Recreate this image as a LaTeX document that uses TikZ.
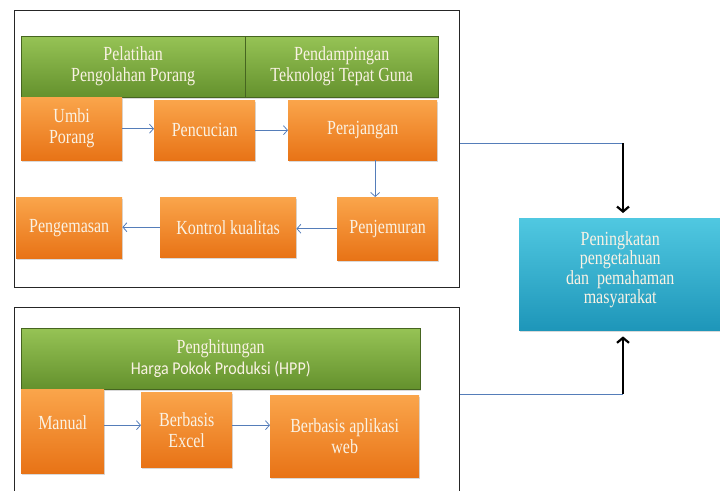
\documentclass[tikz,border=0pt]{standalone}
\usepackage{fontspec}
\setmainfont[FakeStretch=0.8]{Liberation Serif}
\newfontfamily\calibrifont[FakeStretch=0.89]{Carlito}
\usetikzlibrary{arrows.meta,shadows}

\definecolor{leaftop}{RGB}{150,195,85}
\definecolor{leafdark}{RGB}{100,145,45}
\definecolor{carrottop}{RGB}{250,165,75}
\definecolor{carrot}{RGB}{232,115,22}
\definecolor{skytop}{RGB}{80,200,225}
\definecolor{sky}{RGB}{30,150,185}
\definecolor{steel}{RGB}{85,125,185}
\definecolor{cream}{RGB}{250,242,228}

\tikzset{
  box/.style={anchor=north west, align=center, text=cream, inner sep=2pt,
    font=\fontsize{20}{21}\selectfont,
    drop shadow={shadow xshift=1pt,shadow yshift=-1.5pt,opacity=.3}},
  greenbox/.style={box, top color=leaftop, bottom color=leafdark, draw=leafdark!70!black, line width=.4pt},
  orangebox/.style={box, top color=carrottop, bottom color=carrot},
  cyanbox/.style={box, top color=skytop, bottom color=sky, font=\fontsize{20}{19.5}\selectfont},
  frame/.style={anchor=north west, draw=black!85, line width=1.3pt},
  flow/.style={draw=steel, line width=.8pt, -{Straight Barb[length=4pt,width=9pt]}},
  link/.style={draw=steel, line width=.7pt},
  push/.style={line width=2.2pt, -{Straight Barb[length=5pt,width=12pt]}}
}

\begin{document}
\begin{tikzpicture}[x=1pt, y=-1pt]

\useasboundingbox (0,0) rectangle (720,490);

\node[frame, minimum width=445pt, minimum height=277pt] (topframe) at (14,10) {};
\node[frame, minimum width=445pt, minimum height=200pt] (botframe) at (14,307) {};

\node[greenbox, minimum width=224pt, minimum height=61pt] (training) at (21,36) {Pelatihan\\Pengolahan Porang};
\node[greenbox, minimum width=193pt, minimum height=61pt] (assist) at (245,36) {Pendampingan\\Teknologi Tepat Guna};

\node[orangebox, minimum width=101pt, minimum height=63pt] (tuber) at (21,97) {Umbi\\Porang};
\node[orangebox, minimum width=101pt, minimum height=60pt] (washing) at (154,100) {Pencucian};
\node[orangebox, minimum width=149pt, minimum height=60pt] (slicing) at (288,100) {Perajangan};
\node[orangebox, minimum width=101pt, minimum height=63pt] (drying) at (337,197) {Penjemuran};
\node[orangebox, minimum width=136pt, minimum height=60pt] (quality) at (160,197) {Kontrol kualitas};
\node[orangebox, minimum width=106pt, minimum height=61pt] (packing) at (16,197) {Pengemasan};

\draw[flow] (tuber.east) -- (tuber.east -| washing.west);
\draw[flow] (washing.east) -- (washing.east -| slicing.west);
\draw[flow] ([xshift=12.5pt]slicing.south) -- ([xshift=-12.5pt]drying.north);
\draw[flow] (drying.west) -- (drying.west -| quality.east);
\draw[flow] (quality.west) -- (quality.west -| packing.east);

\node[greenbox, minimum width=399pt, minimum height=61pt] (hpp) at (21,328) {Penghitungan\\{\calibrifont\fontsize{18}{21}\selectfont Harga Pokok Produksi (HPP)}};

\node[orangebox, minimum width=83pt, minimum height=84pt] (manual) at (21,389) {Manual\\[-4pt]};
\node[orangebox, minimum width=91pt, minimum height=75pt] (excel) at (141,392) {Berbasis\\Excel};
\node[orangebox, minimum width=149pt, minimum height=82pt] (webapp) at (270,395) {Berbasis aplikasi\\web};

\draw[flow] ([yshift=6pt]manual.east) -- ([yshift=6pt]manual.east -| excel.west);
\draw[flow] ([yshift=4.5pt]excel.east) -- ([yshift=4.5pt]excel.east -| webapp.west);

\node[cyanbox, minimum width=202pt, minimum height=112pt] (result) at (519,218) {Peningkatan\\pengetahuan\\dan\ \ pemahaman\\masyarakat\\[-6pt]};

\coordinate (topbend) at (623,143);
\coordinate (botbend) at (623,394);
\draw[link] (topbend -| topframe.east) -- (topbend);
\draw[push] (topbend) -- ([yshift=5pt]result.north -| topbend);
\draw[link] (botbend -| botframe.east) -- (botbend);
\draw[push] (botbend) -- ([yshift=-6pt]result.south -| botbend);

\end{tikzpicture}
\end{document}
